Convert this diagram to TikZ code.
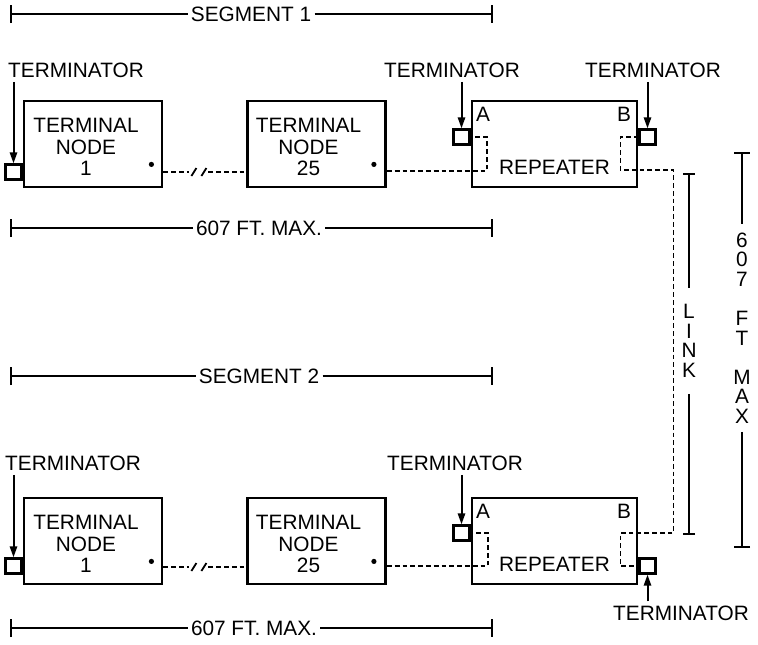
\documentclass[tikz,border=0pt]{standalone}
\usepackage{fontspec}
\setmainfont{Liberation Sans}
\usetikzlibrary{positioning,arrows.meta,calc}

\begin{document}
\begin{tikzpicture}[x=0.5pt, y=-0.5pt, font=\fontsize{10.4}{10.75}\selectfont,
  nodebox/.style={draw, line width=1.4pt, minimum width=69pt, minimum height=43pt, inner sep=0pt},
  repbox/.style={draw, line width=1.4pt, minimum width=82.5pt, minimum height=43pt, inner sep=0pt},
  nodetext/.style={align=center, inner sep=0pt},
  term/.style={draw, line width=1.1pt, minimum width=8pt, minimum height=7.5pt, inner sep=0pt},
  port/.style={inner sep=1pt},
  label/.style={inner sep=2pt},
  dimtext/.style={inner sep=1.5pt},
  vtext/.style={align=center, font=\fontsize{10.4}{9.8}\selectfont, inner xsep=2pt},
  bus/.style={line width=0.9pt, dash pattern=on 2.4pt off 1.5pt},
  feed/.style={-{Triangle[length=5.5pt, width=3.6pt]}, line width=1pt},
  dim/.style={line width=1pt}]
  \useasboundingbox (0,0) rectangle (758,644);

  % dimension lines
  \node[dimtext] (seg1) at (251,14) {SEGMENT 1};
  \coordinate (seg1l) at (10,14);
  \coordinate (seg1r) at (493,14);
  \draw[dim, {Bar[width=9pt]}-] (seg1l) -- (seg1.west);
  \draw[dim, -{Bar[width=9pt]}] (seg1.east) -- (seg1r);

  \node[dimtext] (len1) at (259,228) {607 FT. MAX.};
  \coordinate (len1l) at (10,228);
  \coordinate (len1r) at (493,228);
  \draw[dim, {Bar[width=9pt]}-] (len1l) -- (len1.west);
  \draw[dim, -{Bar[width=9pt]}] (len1.east) -- (len1r);

  \node[dimtext] (seg2) at (259,376) {SEGMENT 2};
  \coordinate (seg2l) at (10,376);
  \coordinate (seg2r) at (493,376);
  \draw[dim, {Bar[width=9pt]}-] (seg2l) -- (seg2.west);
  \draw[dim, -{Bar[width=9pt]}] (seg2.east) -- (seg2r);

  \node[dimtext] (len2) at (254,628) {607 FT. MAX.};
  \coordinate (len2l) at (10,628);
  \coordinate (len2r) at (493,628);
  \draw[dim, {Bar[width=9pt]}-] (len2l) -- (len2.west);
  \draw[dim, -{Bar[width=9pt]}] (len2.east) -- (len2r);

  \node[vtext, inner ysep=8pt] (linktxt) at (689,341) {L\\I\\N\\K};
  \coordinate (linkt) at (689,173);
  \coordinate (linkb) at (689,535);
  \draw[dim, {Bar[width=6pt]}-] (linkt) -- (linktxt.north);
  \draw[dim, -{Bar[width=6pt]}] (linktxt.south) -- (linkb);

  \node[vtext, inner ysep=4pt] (maxtxt) at (742,328) {6\\0\\7\\[9.8pt]F\\T\\[9.8pt]M\\A\\X};
  \coordinate (maxt) at (742,152);
  \coordinate (maxb) at (742,548);
  \draw[dim, {Bar[width=8pt]}-] (maxt) -- (maxtxt.north);
  \draw[dim, -{Bar[width=8pt]}] (maxtxt.south) -- (maxb);

  % segment 1
  \node[nodebox] (tn1a) at (93,144) {};
  \node[nodetext] (tn1atxt) at ($(tn1a)+(-7,3)$) {TERMINAL\\NODE\\1};
  \fill ($(tn1a.south east)+(-12,-24)$) circle (1.3pt);
  \node[nodebox] (tn25a) at (316.5,144) {};
  \node[nodetext] (tn25atxt) at ($(tn25a)+(-8,3)$) {TERMINAL\\NODE\\25};
  \fill ($(tn25a.south east)+(-13,-24)$) circle (1.3pt);
  \node[repbox] (rep1) at (554.5,144) {};
  \node[port, anchor=north west] (rep1a) at ($(rep1.north west)+(3,5)$) {A};
  \node[port, anchor=north east] (rep1b) at ($(rep1.north east)+(-5,5)$) {B};
  \node (rep1txt) at ($(rep1)+(0,23)$) {REPEATER};

  \node[term, anchor=east] (t1a) at ($(tn1a.west)+(0,28)$) {};
  \node[term, anchor=east] (tr1a) at ($(rep1.west)+(0,-7)$) {};
  \node[term, anchor=west] (tr1b) at ($(rep1.east)+(0,-7)$) {};

  \node[label] (lab1a) at (76,70) {TERMINATOR};
  \node[label] (labr1a) at (452,70) {TERMINATOR};
  \node[label] (labr1b) at (653,70) {TERMINATOR};
  \draw[feed] (lab1a.south -| t1a.north) -- (t1a.north);
  \draw[feed] (labr1a.south -| tr1a.north) -- (tr1a.north);
  \draw[feed] (labr1b.south -| tr1b.north) -- (tr1b.north);

  \coordinate (brk1) at ($(tn1a.east)+(26,28)$);
  \draw[bus] ($(tn1a.east)+(0,28)$) -- (brk1);
  \draw[line width=0.9pt] ($(brk1)+(2,4)$) -- ++(5,-8);
  \draw[line width=0.9pt] ($(brk1)+(12,4)$) -- ++(5,-8);
  \draw[bus] ($(brk1)+(19,0)$) -- (tn25a.west |- brk1);
  \draw[bus] ($(tn25a.east)+(0,27)$) -- ($(rep1.west)+(16,27)$) -- ($(rep1.west)+(16,-7)$) -- (tr1a.east);

  % segment 2
  \node[nodebox] (tn1b) at (93,541) {};
  \node[nodetext] (tn1btxt) at ($(tn1b)+(-7,3)$) {TERMINAL\\NODE\\1};
  \fill ($(tn1b.south east)+(-12,-24)$) circle (1.3pt);
  \node[nodebox] (tn25b) at (316.5,541) {};
  \node[nodetext] (tn25btxt) at ($(tn25b)+(-8,3)$) {TERMINAL\\NODE\\25};
  \fill ($(tn25b.south east)+(-13,-24)$) circle (1.3pt);
  \node[repbox] (rep2) at (554.5,541) {};
  \node[port, anchor=north west] (rep2a) at ($(rep2.north west)+(3,5)$) {A};
  \node[port, anchor=north east] (rep2b) at ($(rep2.north east)+(-5,5)$) {B};
  \node (rep2txt) at ($(rep2)+(0,23)$) {REPEATER};

  \node[term, anchor=east] (t1b) at ($(tn1b.west)+(0,25)$) {};
  \node[term, anchor=east] (tr2a) at ($(rep2.west)+(0,-8)$) {};
  \node[term, anchor=west] (tr2b) at ($(rep2.east)+(0,25)$) {};

  \node[label] (lab1b) at (73,463) {TERMINATOR};
  \node[label] (labr2a) at (455,463) {TERMINATOR};
  \node[label] (labr2b) at (681,613) {TERMINATOR};
  \draw[feed] (lab1b.south -| t1b.north) -- (t1b.north);
  \draw[feed] (labr2a.south -| tr2a.north) -- (tr2a.north);
  \draw[feed] (labr2b.north -| tr2b.south) -- (tr2b.south);

  \coordinate (brk2) at ($(tn1b.east)+(26,26)$);
  \draw[bus] ($(tn1b.east)+(0,26)$) -- (brk2);
  \draw[line width=0.9pt] ($(brk2)+(2,4)$) -- ++(5,-8);
  \draw[line width=0.9pt] ($(brk2)+(12,4)$) -- ++(5,-8);
  \draw[bus] ($(brk2)+(19,0)$) -- (tn25b.west |- brk2);
  \draw[bus] ($(tn25b.east)+(0,25)$) -- ($(rep2.west)+(17,25)$) -- ($(rep2.west)+(17,-8)$) -- (tr2a.east);

  % link between repeaters
  \draw[bus] (tr1b.west) -- ($(rep1.east)+(-18,-7)$) -- ($(rep1.east)+(-18,26)$)
    -- ($(rep1.east)+(35,26)$) |- ($(rep2.east)+(0,-8)$) -- ($(rep2.east)+(-18,-8)$)
    -- ($(rep2.east)+(-18,25)$) -- (tr2b.west);
\end{tikzpicture}
\end{document}
